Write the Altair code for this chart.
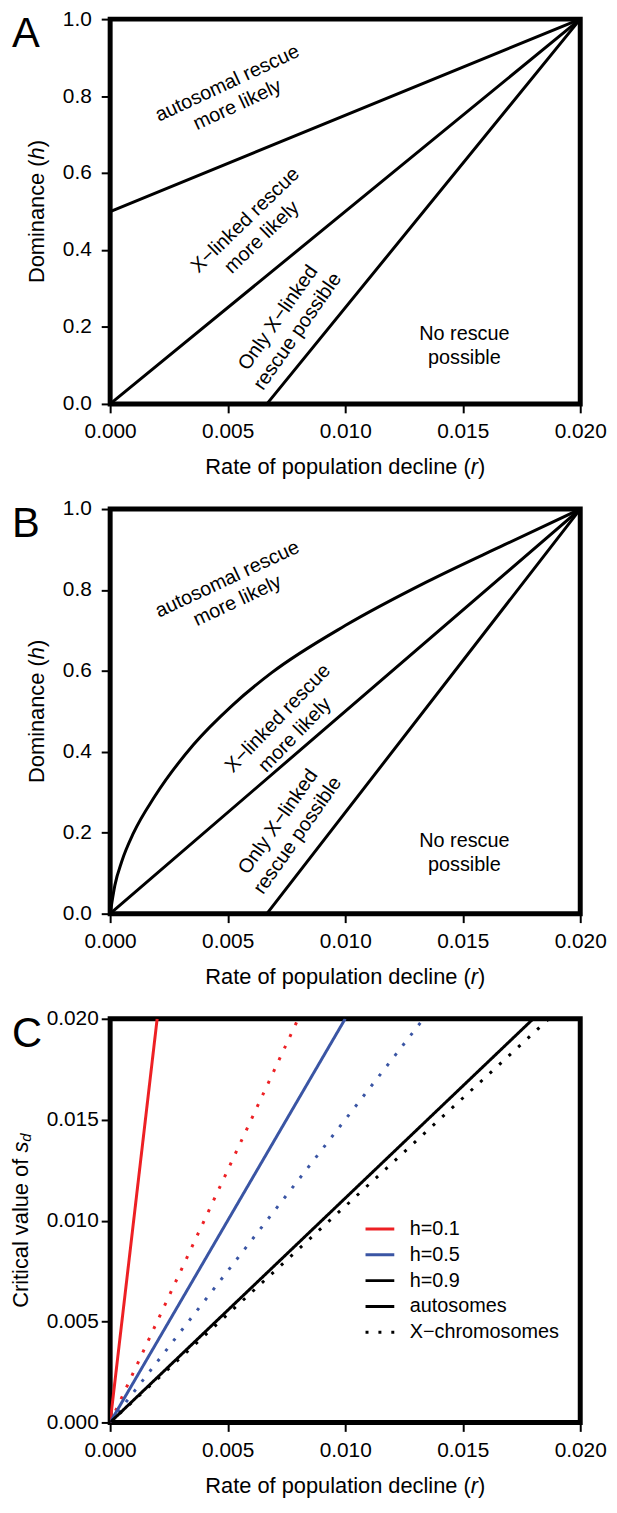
import altair as alt
import pandas as pd

FONT = "Liberation Sans"
RED = "#ED2024"
BLUE = "#3A55A4"

W = 474
HA, HB, HC = 388, 408, 407

# ---------------- data ----------------
# Panel A: three straight boundaries
A_ID = ["a1", "a1", "a2", "a2", "a3", "a3"]
A_R = [0.0, 0.02, 0.0, 0.02, 0.00667, 0.02]
A_H = [0.5, 1.0, 0.0, 1.0, 0.0, 1.0]

# Panel B: curved boundary + two straight ones
B_CURVE_R = [0.0, 0.0002, 0.0005, 0.001, 0.0019, 0.00355, 0.0052, 0.00686,
             0.0100, 0.01347, 0.01678, 0.020]
B_CURVE_H = [0.0, 0.07, 0.13, 0.20, 0.29, 0.418, 0.515, 0.595,
             0.712, 0.82, 0.912, 1.0]
B_ID = ["b2", "b2", "b3", "b3"]
B_R = [0.0, 0.02, 0.00667, 0.02]
B_H = [0.0, 1.0, 0.0, 1.0]

REGION_LABELS = ["autosomal rescue\nmore likely", "X\u2212linked rescue\nmore likely",
                 "Only X\u2212linked\nrescue possible", "No rescue\npossible"]
A_LABEL_R = [0.0052, 0.0061, 0.00756, 0.01507]
A_LABEL_H = [0.805, 0.455, 0.206, 0.15]
A_LABEL_ANGLE = [335, 316, 305, 0]
B_LABEL_R = [0.0052, 0.0075, 0.00756, 0.01507]
B_LABEL_H = [0.80, 0.462, 0.21, 0.149]
B_LABEL_ANGLE = [335, 314, 305, 0]

# Panel C: critical s_d lines, all reaching top of panel (s = 0.02)
C_LEVELS = ["h=0.1", "h=0.5", "h=0.9"]
C_AUTO_END_R = [0.002, 0.010, 0.018]
C_X_END_R = [0.008, 0.01333, 0.01867]
C_TOP_S = 0.02
C_CHROM = ["autosomes", "X\u2212chromosomes"]

X_TICKS = [0.0, 0.005, 0.010, 0.015, 0.020]
H_TICKS = [0.0, 0.2, 0.4, 0.6, 0.8, 1.0]
S_TICKS = [0.0, 0.005, 0.010, 0.015, 0.020]

# ---------------- helpers ----------------
TICK_FS = 21
TITLE_FS = 22


def xenc():
    return alt.X("r:Q", scale=alt.Scale(domain=[0, 0.02], nice=False, zero=False),
                 axis=alt.Axis(values=X_TICKS, format=".3f", title=None, domain=False, grid=False,
                               tickSize=9, tickWidth=2, tickColor="black",
                               labelFont=FONT, labelFontSize=TICK_FS, labelColor="black",
                               labelPadding=8, labelFlush=False, labelOverlap=False))


def yenc(field, domain, ticks, fmt, pad):
    return alt.Y(field, scale=alt.Scale(domain=domain, nice=False, zero=False),
                 axis=alt.Axis(values=ticks, format=fmt, title=None, domain=False, grid=False,
                               tickSize=9, tickWidth=2, tickColor="black",
                               labelFont=FONT, labelFontSize=TICK_FS, labelColor="black",
                               labelPadding=pad, labelFlush=False, labelOverlap=False))


ONE = pd.DataFrame({"_": [0]})


def txt(text, x, y, **kw):
    base = dict(font=FONT, fontSize=TITLE_FS, color="black", baseline="middle", align="left")
    base.update(kw)
    return alt.Chart(ONE).mark_text(**base).encode(
        x=alt.value(x), y=alt.value(y), text=alt.value(text))


def x_title(H):
    fs = TITLE_FS
    w1, wr, wp = 12.173 * fs, 0.333 * fs, 0.333 * fs
    x0 = W / 2 - (w1 + wr + wp) / 2 + w1
    y = H + 64
    return [txt("Rate of population decline (", x0, y, align="right"),
            txt("r", x0, y, fontStyle="italic"),
            txt(")", x0 + wr, y)]


def y_title(H, x, parts):
    # parts: (text, width_px, fontsize, italic, dx)
    total = sum(p[1] for p in parts)
    ypos = H / 2 + total / 2
    out = []
    for text, w, fs, ital, dx in parts:
        kw = dict(angle=270, fontSize=fs)
        if ital:
            kw["fontStyle"] = "italic"
        out.append(txt(text, x + dx, ypos, **kw))
        ypos -= w
    return out


def letter(ch):
    return txt(ch, -99, 28, fontSize=42, baseline="alphabetic")


def region_labels(rs, hs, angles, yfield):
    layers = []
    for lab, r, h, ang in zip(REGION_LABELS, rs, hs, angles):
        df = pd.DataFrame({"r": [r], yfield: [h], "t": [lab]})
        layers.append(alt.Chart(df).mark_text(
            font=FONT, fontSize=20, lineHeight=24, angle=ang, lineBreak="\n", dy=-12,
            align="center", baseline="middle", color="black").encode(
            x=xenc(), y=yenc(f"{yfield}:Q", [0, 1], H_TICKS, ".1f", 10), text="t:N"))
    return layers


dom_parts = [("Dominance (", 5.668 * TITLE_FS, TITLE_FS, False, 0),
             ("h", 0.556 * TITLE_FS, TITLE_FS, True, 0),
             (")", 0.333 * TITLE_FS, TITLE_FS, False, 0)]

# ---------------- panel A ----------------
dfA = pd.DataFrame({"id": A_ID, "r": A_R, "h": A_H})
linesA = alt.Chart(dfA).mark_line(color="black", strokeWidth=3, strokeCap="round").encode(
    x=xenc(), y=yenc("h:Q", [0, 1], H_TICKS, ".1f", 10), detail="id:N")
panelA = alt.layer(linesA, *region_labels(A_LABEL_R, A_LABEL_H, A_LABEL_ANGLE, "h"),
                   *x_title(HA), *y_title(HA, -74, dom_parts), letter("A")).properties(
    width=W, height=HA)

# ---------------- panel B ----------------
dfBc = pd.DataFrame({"r": B_CURVE_R, "h": B_CURVE_H})
curveB = alt.Chart(dfBc).mark_line(color="black", strokeWidth=3, interpolate="monotone",
                                   strokeCap="round").encode(
    x=xenc(), y=yenc("h:Q", [0, 1], H_TICKS, ".1f", 10))
dfB = pd.DataFrame({"id": B_ID, "r": B_R, "h": B_H})
linesB = alt.Chart(dfB).mark_line(color="black", strokeWidth=3, strokeCap="round").encode(
    x=xenc(), y=yenc("h:Q", [0, 1], H_TICKS, ".1f", 10), detail="id:N")
panelB = alt.layer(curveB, linesB, *region_labels(B_LABEL_R, B_LABEL_H, B_LABEL_ANGLE, "h"),
                   *x_title(HB), *y_title(HB, -74, dom_parts), letter("B")).properties(
    width=W, height=HB)

# ---------------- panel C ----------------
rows = []
for lvl, ra, rx in zip(C_LEVELS, C_AUTO_END_R, C_X_END_R):
    rows += [{"lvl": lvl, "chrom": C_CHROM[1], "r": 0.0, "s": 0.0},
             {"lvl": lvl, "chrom": C_CHROM[1], "r": rx, "s": C_TOP_S}]
for lvl, ra, rx in zip(C_LEVELS, C_AUTO_END_R, C_X_END_R):
    rows += [{"lvl": lvl, "chrom": C_CHROM[0], "r": 0.0, "s": 0.0},
             {"lvl": lvl, "chrom": C_CHROM[0], "r": ra, "s": C_TOP_S}]
dfC = pd.DataFrame(rows)

leg_common = dict(title=None, orient="none", direction="vertical", symbolType="stroke",
                  symbolSize=841, symbolStrokeWidth=3, labelFont=FONT, labelFontSize=20,
                  labelColor="black", labelOffset=14, rowPadding=0, padding=0, clipHeight=26)
linesC = alt.Chart(dfC).mark_line(strokeWidth=3, strokeCap="butt", clip=True).encode(
    x=xenc(),
    y=yenc("s:Q", [0, 0.02], S_TICKS, ".3f", 3),
    color=alt.Color("lvl:N", scale=alt.Scale(domain=C_LEVELS, range=[RED, BLUE, "black"]),
                    legend=alt.Legend(legendX=256, legendY=199, **leg_common)),
    strokeDash=alt.StrokeDash("chrom:N", scale=alt.Scale(domain=C_CHROM, range=[[1, 0], [3, 10]]),
                              legend=alt.Legend(legendX=256, legendY=277, symbolStrokeColor="black",
                                                **leg_common)),
    detail="lvl:N",
)
crit_parts = [("Critical value of ", 7.113 * TITLE_FS, TITLE_FS, False, 0),
              ("s", 0.5 * TITLE_FS, TITLE_FS, True, 0),
              ("d", 0.556 * 15, 15, True, 5)]
panelC = alt.layer(linesC, *x_title(HC), *y_title(HC, -90, crit_parts), letter("C")).properties(
    width=W, height=HC)

chart = alt.vconcat(panelA, panelB, panelC, spacing=14).properties(
    padding={"left": -1, "top": -9, "right": 0, "bottom": -6}
).configure_view(stroke="black", strokeWidth=5).resolve_scale(
    color="independent", strokeDash="independent"
).resolve_legend(color="independent", strokeDash="independent")

chart.save("out.html", embed_options={"renderer": "svg", "actions": False})
